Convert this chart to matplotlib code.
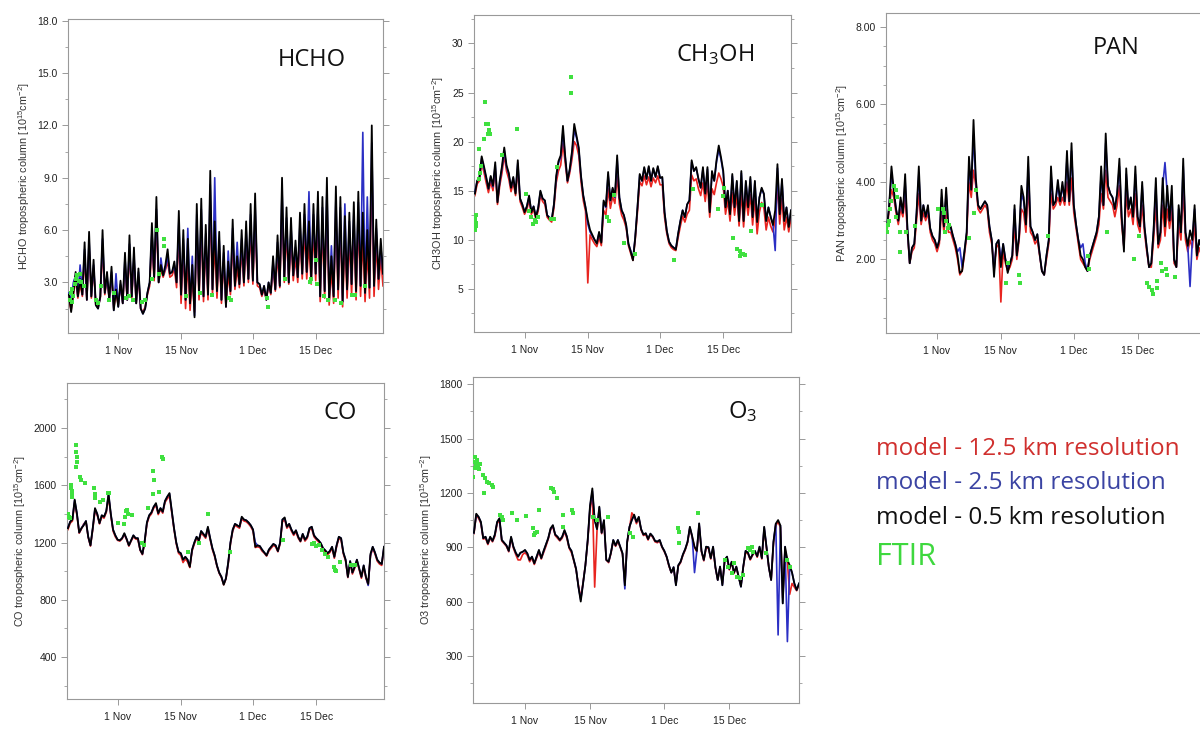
import numpy as np
import matplotlib
matplotlib.use("Agg")
import matplotlib.pyplot as plt

plt.rcParams['font.family'] = ['Liberation Sans', 'DejaVu Sans']
plt.rcParams['mathtext.default'] = 'regular'

# time axis: days since 1 Nov, model output every 12 h
t_half = np.arange(-11, 59.5, 0.5)
date_ticks = [0, 14, 30, 44]
date_labels = ["1 Nov", "15 Nov", "1 Dec", "15 Dec"]

# ---------------- HCHO ----------------
hcho_05 = [2.3, 1.3, 2.4, 3.6, 2.2, 3.2, 2.3, 5.3, 2.0, 5.9,
           2.2, 4.3, 1.7, 1.5, 2.2, 6.0, 2.4, 3.6, 2.0, 3.9,
           1.4, 2.6, 1.6, 3.1, 1.8, 4.7, 2.0, 5.7, 2.2, 5.0,
           1.8, 3.8, 1.5, 1.2, 1.5, 2.4, 3.0, 6.4, 3.3, 7.9,
           3.0, 4.0, 3.4, 4.0, 4.9, 3.5, 3.6, 4.2, 3.0, 7.1,
           2.3, 6.0, 2.0, 5.5, 1.8, 4.0, 1.0, 7.5, 2.4, 7.8,
           2.2, 6.3, 2.3, 9.4, 2.6, 6.5, 2.5, 5.9, 2.0, 5.1,
           1.6, 4.2, 2.5, 6.6, 2.8, 4.5, 2.9, 6.0, 3.0, 6.5,
           3.2, 7.5, 3.1, 8.1, 3.0, 2.9, 2.3, 2.8, 2.0, 3.0,
           2.4, 4.5, 2.6, 5.7, 2.8, 9.0, 3.2, 7.3, 3.0, 6.7,
           3.4, 5.4, 3.3, 7.0, 3.5, 7.5, 3.6, 6.5, 3.2, 7.5,
           3.5, 8.2, 2.2, 7.9, 2.5, 9.0, 2.0, 4.5, 2.2, 8.5,
           2.6, 7.9, 1.9, 6.8, 2.6, 7.0, 2.9, 7.6, 2.5, 8.2,
           2.8, 7.0, 2.4, 6.0, 2.7, 12.0, 2.8, 6.6, 3.2, 5.5,
           3.5]
hcho_125 = [2.0, 1.4, 2.3, 3.2, 2.1, 2.9, 2.2, 4.5, 2.0, 5.0,
            2.1, 3.8, 1.7, 1.6, 2.1, 5.0, 2.3, 3.2, 2.0, 3.4,
            1.5, 2.4, 1.7, 2.8, 1.8, 4.0, 2.0, 4.8, 2.1, 4.3,
            1.8, 3.3, 1.5, 1.3, 1.6, 2.3, 2.8, 5.2, 3.1, 6.5,
            3.0, 3.7, 3.3, 3.7, 4.2, 3.3, 3.4, 3.8, 2.7, 5.8,
            1.8, 4.8, 1.5, 4.2, 1.4, 3.2, 1.3, 6.0, 2.0, 6.2,
            1.9, 5.0, 2.0, 7.5, 2.3, 5.2, 2.1, 4.8, 1.8, 4.2,
            1.6, 3.5, 2.3, 5.3, 2.6, 3.8, 2.7, 4.9, 2.8, 5.3,
            3.0, 6.0, 2.9, 6.5, 2.8, 2.7, 2.2, 2.6, 2.0, 2.8,
            2.3, 3.8, 2.5, 4.6, 2.7, 7.2, 3.0, 5.9, 2.9, 5.4,
            3.1, 4.4, 3.0, 5.6, 3.2, 6.0, 3.2, 5.2, 2.9, 6.0,
            3.1, 6.6, 1.9, 6.3, 2.1, 7.2, 1.7, 3.7, 1.8, 6.8,
            2.1, 6.3, 1.6, 5.4, 2.1, 5.6, 2.3, 6.1, 2.0, 6.6,
            2.2, 5.6, 1.9, 4.8, 2.1, 9.6, 2.2, 5.3, 2.6, 4.4,
            2.8]
hcho_25 = [2.4, 2.0, 3.0, 3.4, 2.2, 4.0, 2.3, 4.9, 2.0, 5.4,
           2.2, 4.0, 1.7, 1.5, 2.2, 5.5, 2.4, 3.4, 2.0, 3.6,
           1.4, 3.5, 1.6, 2.9, 1.8, 4.4, 2.0, 5.2, 2.2, 4.6,
           1.8, 3.6, 1.5, 1.2, 1.5, 2.4, 3.0, 5.9, 3.3, 7.2,
           3.0, 4.4, 3.4, 3.8, 4.5, 3.5, 3.6, 4.0, 3.0, 6.5,
           2.3, 5.5, 2.0, 6.1, 1.8, 4.5, 1.1, 6.9, 2.4, 7.2,
           2.2, 5.8, 2.3, 8.6, 2.6, 9.0, 2.5, 5.4, 2.0, 4.7,
           1.6, 4.8, 2.5, 6.1, 2.8, 5.3, 2.9, 5.5, 3.0, 6.0,
           3.2, 6.9, 3.1, 7.4, 3.0, 2.9, 2.3, 2.8, 2.0, 3.0,
           2.4, 4.2, 2.6, 5.3, 2.8, 8.3, 3.2, 6.7, 3.0, 6.2,
           3.4, 5.0, 3.3, 6.4, 3.5, 6.9, 3.6, 8.2, 3.2, 6.9,
           3.5, 7.5, 2.2, 7.3, 2.5, 8.3, 2.0, 5.1, 2.2, 7.8,
           2.6, 7.3, 1.9, 7.5, 2.6, 6.5, 2.9, 7.0, 2.5, 7.6,
           2.8, 11.6, 2.4, 7.9, 2.7, 11.0, 2.8, 6.1, 3.2, 5.1,
           3.5]
hcho_ftir_t = [-10.8, -10.6, -10.4, -10.2, -10.0, -9.7, -9.4, -9.1, -8.8, -8.5,
               -8.2, -7.6, -5.0, -4.6, -3.9, -2.0, -1.0, 1.8, 2.5, 3.2,
               5.3, 6.0, 7.6, 8.7, 9.1, 10.3, 10.3, 15.0, 18.2, 20.8,
               24.6, 25.2, 33.2, 33.3, 37.2, 42.7, 43.0, 44.0, 44.3, 45.8,
               46.8, 48.2, 49.6, 52.2, 52.8, 55.0]
hcho_ftir = [2.0, 2.4, 1.9, 2.6, 2.2, 2.9, 3.2, 3.4, 3.1, 3.5,
             3.0, 2.8, 2.0, 1.8, 2.8, 2.0, 2.4, 2.1, 2.2, 2.0,
             1.9, 2.0, 3.2, 6.0, 3.5, 5.5, 5.1, 2.2, 2.4, 2.3,
             2.1, 2.0, 2.1, 1.6, 3.2, 3.0, 3.2, 4.3, 2.9, 2.2,
             2.0, 2.0, 1.8, 2.3, 2.3, 2.8]

# ---------------- CH3OH ----------------
ch3oh_05 = [14.7, 16.0, 16.4, 18.5, 17.5, 16.4, 15.2, 16.5, 15.5, 17.9,
            13.8, 16.0, 17.5, 19.4, 17.6, 16.8, 15.3, 16.4, 14.7, 18.1,
            14.2, 13.6, 12.8, 13.4, 14.5, 12.8, 13.4, 12.3, 13.2, 15.0,
            14.2, 14.0, 12.5, 12.2, 12.0, 13.6, 16.5, 18.0, 18.6, 21.6,
            18.5, 16.0, 17.2, 19.0, 21.8, 20.6, 19.4, 16.5, 14.5, 13.3,
            12.0, 11.0, 10.5, 10.0, 9.6, 10.8, 9.7, 14.0, 13.4, 16.9,
            14.0, 15.3, 14.4, 18.6, 14.3, 13.0, 12.5, 11.5, 9.6, 8.8,
            7.9, 10.2, 13.3, 16.7, 16.0, 17.4, 16.2, 17.5, 16.0, 17.3,
            16.4, 17.5, 16.3, 16.4, 12.8, 10.9, 9.8, 9.4, 9.2, 9.0,
            10.6, 11.9, 13.0, 12.3, 13.6, 14.0, 18.1, 17.0, 17.4, 16.2,
            15.3, 17.4, 14.7, 17.4, 12.8, 17.0, 16.0, 18.1, 19.6, 18.4,
            17.0, 13.3, 15.0, 12.6, 16.7, 13.3, 16.0, 11.9, 17.0, 11.9,
            16.0, 13.3, 16.4, 12.3, 16.0, 11.8, 14.3, 15.3, 14.7, 11.9,
            13.3, 12.3, 11.5, 13.0, 17.7, 12.6, 16.2, 11.9, 13.3, 11.3,
            13.0]
ch3oh_125 = [14.5, 15.7, 16.0, 17.8, 16.9, 15.8, 14.8, 15.9, 15.0, 17.0,
             13.6, 15.5, 16.8, 18.6, 17.0, 16.2, 14.9, 15.8, 14.5, 17.2,
             13.9, 13.3, 12.6, 13.1, 14.0, 12.6, 13.1, 12.1, 12.9, 14.5,
             13.9, 13.6, 12.3, 12.0, 11.8, 13.2, 15.8, 17.0, 17.6, 19.8,
             17.8, 15.8, 16.8, 18.2, 20.0, 19.6, 18.6, 15.9, 14.0, 12.9,
             5.6, 10.5, 10.0, 9.6, 9.3, 10.2, 9.4, 13.0, 12.5, 15.2,
             13.2, 14.4, 13.7, 16.5, 13.6, 12.5, 12.0, 11.2, 9.4, 8.6,
             7.9, 10.0, 12.8, 15.9, 15.5, 16.5, 15.6, 16.4, 15.4, 16.3,
             15.8, 16.5, 15.6, 15.6, 12.3, 10.6, 9.6, 9.2, 9.0, 8.9,
             10.2, 11.4, 12.4, 11.8, 12.6, 13.0, 16.6, 16.0, 16.2, 15.2,
             14.5, 15.8, 13.9, 15.8, 12.3, 15.2, 14.6, 15.8, 16.8, 16.2,
             15.4, 12.6, 14.0, 11.9, 14.8, 12.5, 14.6, 11.4, 14.8, 11.3,
             14.4, 12.5, 14.6, 11.5, 14.2, 10.6, 12.8, 13.8, 13.2, 11.0,
             12.3, 11.4, 10.8, 12.0, 15.6, 11.6, 14.2, 11.0, 12.3, 10.8,
             12.2]
ch3oh_25 = [14.9, 16.0, 16.3, 18.3, 17.3, 16.3, 15.2, 16.4, 15.4, 17.6,
            13.9, 15.9, 17.3, 19.1, 17.4, 16.7, 15.3, 16.3, 14.8, 17.8,
            14.2, 13.6, 12.9, 13.4, 14.4, 12.9, 13.4, 12.4, 13.2, 14.9,
            14.2, 14.0, 12.5, 12.3, 12.1, 13.6, 16.3, 17.8, 18.4, 21.0,
            18.4, 16.0, 17.1, 18.8, 21.2, 20.4, 19.2, 16.4, 14.5, 13.3,
            11.6, 10.8, 10.4, 10.0, 9.7, 10.7, 9.8, 13.8, 13.3, 16.6,
            14.0, 15.2, 14.3, 18.2, 14.3, 13.0, 12.5, 11.5, 9.6, 8.9,
            8.0, 10.3, 13.3, 16.6, 16.0, 17.3, 16.2, 17.4, 16.0, 17.2,
            16.4, 17.4, 16.3, 16.3, 12.8, 10.9, 9.8, 9.4, 9.2, 9.1,
            10.6, 11.9, 13.0, 12.3, 13.6, 14.0, 17.9, 17.0, 17.3, 16.2,
            15.3, 17.2, 14.7, 17.2, 12.9, 16.8, 16.0, 17.9, 19.2, 18.2,
            16.8, 13.4, 15.0, 12.7, 16.5, 13.4, 15.9, 12.0, 16.8, 12.0,
            15.9, 13.4, 16.2, 12.4, 15.9, 11.9, 14.3, 15.2, 14.6, 12.0,
            13.3, 12.4, 11.6, 8.9, 17.3, 12.7, 16.0, 12.0, 13.3, 11.4,
            13.0]
ch3oh_ftir_t = [-10.9, -10.9, -10.8, -10.8, -10.9, -10.7, -10.0, -9.9, -9.7, -10.0,
                -8.8, -8.9, -8.5, -8.1, -7.9, -8.2, -7.6, -4.9, -1.6, 0.3,
                1.0, 1.5, 1.8, 2.2, 2.6, 2.9, 5.8, 6.5, 7.1, 10.3,
                10.3, 18.3, 18.6, 19.8, 22.1, 24.5, 33.2, 37.4, 42.9, 44.0,
                44.1, 46.1, 47.0, 47.6, 47.9, 48.4, 48.8, 47.7, 50.1, 52.5]
ch3oh_ftir = [12.3, 12.0, 11.7, 11.4, 11.0, 12.5, 16.2, 16.8, 17.5, 19.2,
              24.0, 20.3, 21.8, 21.8, 21.2, 20.8, 20.8, 18.6, 21.3, 14.7,
              12.9, 12.3, 11.6, 12.0, 11.8, 12.3, 12.1, 12.1, 17.4, 26.6,
              25.0, 12.3, 11.9, 14.6, 9.7, 8.5, 7.9, 15.2, 13.1, 14.5,
              15.3, 10.2, 9.1, 8.9, 8.5, 8.5, 8.4, 8.3, 10.9, 13.5]

# ---------------- PAN ----------------
pan_05 = [2.8, 3.4, 4.4, 3.8, 3.3, 3.0, 3.6, 3.2, 4.2, 2.8,
          1.9, 2.3, 2.4, 3.2, 4.4, 3.0, 3.4, 3.1, 3.4, 2.8,
          2.6, 2.5, 2.3, 2.5, 3.8, 2.85, 3.85, 2.8, 2.85, 2.6,
          2.4, 2.1, 1.65, 1.7, 2.2, 2.7, 4.65, 3.8, 5.6, 4.1,
          3.4, 3.3, 3.4, 3.5, 3.4, 2.85, 2.5, 1.55, 2.4, 2.5,
          1.8, 2.4, 2.0, 1.65, 1.9, 2.1, 3.4, 2.1, 2.6, 3.9,
          3.6, 2.9, 4.65, 2.85, 2.7, 2.5, 2.65, 2.15, 1.7, 1.6,
          2.1, 2.5, 4.4, 3.4, 3.5, 4.05, 3.5, 4.0, 3.5, 4.8,
          3.5, 5.0, 3.4, 2.9, 2.5, 2.1, 2.0, 1.8, 1.7, 2.1,
          2.3, 2.5, 2.7, 3.1, 4.4, 3.4, 5.25, 3.9, 3.7, 3.6,
          3.3, 3.7, 4.6, 3.1, 2.2, 4.35, 3.3, 3.6, 3.1, 4.4,
          3.1, 2.85, 4.0, 2.85, 2.3, 1.8, 1.9, 2.75, 4.1, 2.4,
          2.7, 4.1, 2.85, 3.9, 3.0, 3.9, 2.0, 1.8, 3.4, 2.7,
          4.6, 2.7, 2.35, 2.75, 2.5, 3.4, 2.1, 2.5, 2.3, 2.6,
          2.4]
pan_125 = [2.7, 3.3, 3.8, 3.6, 3.2, 2.9, 3.3, 3.1, 3.6, 2.7,
           1.9, 2.2, 2.3, 3.0, 3.7, 2.9, 3.2, 3.0, 3.2, 2.7,
           2.5, 2.4, 2.2, 2.4, 3.3, 2.7, 3.3, 2.7, 2.7, 2.5,
           2.3, 2.0, 1.6, 1.7, 2.1, 2.6, 4.0, 3.6, 4.3, 3.9,
           3.3, 3.2, 3.3, 3.4, 3.3, 2.7, 2.4, 1.8, 2.3, 2.4,
           0.9, 2.2, 1.9, 1.7, 1.8, 2.0, 2.9, 2.0, 2.5, 3.3,
           3.2, 2.7, 3.9, 2.7, 2.6, 2.4, 2.5, 2.1, 1.7, 1.6,
           2.0, 2.4, 3.7, 3.3, 3.4, 3.6, 3.4, 3.6, 3.4, 4.0,
           3.4, 4.1, 3.2, 2.8, 2.4, 2.0, 1.9, 1.8, 1.7, 2.0,
           2.2, 2.4, 2.6, 2.9, 3.7, 3.3, 4.3, 3.6, 3.5, 3.4,
           3.1, 3.4, 3.9, 2.9, 2.3, 3.7, 3.1, 3.3, 2.9, 3.7,
           2.9, 2.7, 3.4, 2.7, 2.2, 1.8, 1.8, 2.5, 3.4, 2.3,
           2.5, 3.4, 2.6, 3.3, 2.8, 3.3, 1.9, 1.8, 2.9, 2.5,
           3.8, 2.5, 2.2, 2.5, 2.3, 2.9, 2.0, 2.3, 2.1, 2.3,
           2.2]
pan_25 = [2.8, 3.4, 4.2, 3.8, 3.3, 3.0, 3.5, 3.2, 4.0, 2.8,
          1.9, 2.3, 2.4, 3.2, 4.2, 3.0, 3.4, 3.1, 3.3, 2.8,
          2.6, 2.5, 2.3, 2.5, 3.6, 2.85, 3.7, 2.8, 2.8, 2.6,
          2.4, 2.2, 2.3, 1.8, 2.2, 2.7, 4.4, 3.8, 5.2, 4.0,
          3.4, 3.3, 3.4, 3.5, 3.4, 2.85, 2.5, 1.7, 2.4, 2.5,
          2.0, 2.4, 2.0, 1.8, 1.9, 2.1, 3.3, 2.1, 2.6, 3.7,
          3.5, 2.9, 4.4, 2.85, 2.7, 2.5, 2.65, 2.15, 1.7, 1.6,
          2.1, 2.5, 4.2, 3.4, 3.5, 3.9, 3.5, 3.9, 3.5, 4.6,
          3.5, 4.8, 3.4, 2.9, 2.5, 2.3, 2.4, 1.9, 1.7, 2.1,
          2.3, 2.5, 2.7, 3.1, 4.2, 3.4, 5.0, 3.9, 3.7, 3.6,
          3.3, 3.7, 4.4, 3.1, 2.3, 4.2, 3.3, 3.6, 3.1, 4.2,
          3.1, 2.85, 3.9, 2.85, 2.3, 1.8, 1.9, 2.75, 3.9, 2.4,
          2.7, 3.9, 4.5, 3.7, 3.0, 3.7, 2.0, 1.8, 3.3, 2.7,
          4.4, 2.7, 2.35, 1.3, 2.5, 3.3, 2.1, 2.5, 2.3, 2.6,
          2.4]
pan_ftir_t = [-11.1, -10.9, -10.7, -10.5, -10.3, -10.0, -9.4, -9.0, -8.7, -9.1,
              -8.2, -8.1, -6.8, -4.9, 0.1, 1.2, 1.6, 2.0, 2.4, 2.7,
              1.8, 6.9, 8.2, 8.5, 15.1, 15.6, 18.0, 18.2, 24.4, 33.1,
              33.3, 37.3, 43.1, 44.2, 46.0, 46.6, 47.1, 47.4, 48.2, 48.2,
              49.1, 49.3, 50.2, 50.4, 52.2]
pan_ftir = [2.8, 2.7, 2.9, 3.0, 3.3, 3.5, 3.9, 3.8, 3.6, 3.1,
            2.7, 2.2, 2.7, 2.85, 3.3, 3.3, 3.2, 3.0, 2.8, 2.9,
            2.7, 2.55, 3.2, 3.8, 1.4, 1.9, 1.6, 1.4, 2.6, 2.1,
            1.75, 2.7, 2.0, 2.6, 1.4, 1.3, 1.2, 1.1, 1.25, 1.45,
            1.9, 1.7, 1.75, 1.6, 1.55]

# ---------------- CO ----------------
co_05 = [1300, 1345, 1360, 1500, 1400, 1270, 1300, 1320, 1350, 1240,
         1180, 1300, 1440, 1400, 1335, 1390, 1380, 1420, 1540, 1400,
         1290, 1250, 1220, 1215, 1230, 1265, 1225, 1180, 1215, 1250,
         1230, 1230, 1150, 1120, 1210, 1340, 1390, 1410, 1450, 1475,
         1405, 1440, 1415, 1490, 1520, 1545, 1420, 1300, 1200, 1135,
         1125, 1080, 1100, 1080, 1030, 1150, 1200, 1240, 1215, 1280,
         1260, 1240, 1310, 1230, 1160, 1110, 1040, 990, 960, 905,
         950, 1060, 1200, 1290, 1330, 1320, 1310, 1380, 1360, 1355,
         1340, 1320, 1290, 1170, 1180, 1175, 1150, 1130, 1110, 1150,
         1170, 1190, 1180, 1140, 1200, 1360, 1375, 1310, 1330, 1290,
         1260, 1285, 1240, 1210, 1260, 1220, 1240, 1300, 1310, 1250,
         1230, 1215, 1195, 1160, 1145, 1125, 1140, 1170, 1100, 1180,
         1240, 1230, 1130, 1080, 960, 1070, 990, 1030, 1080, 1020,
         960, 1040, 960, 910, 1120, 1170, 1130, 1080, 1060, 1050,
         1170]
co_125 = [1290, 1335, 1350, 1480, 1390, 1265, 1295, 1330, 1345, 1235,
          1175, 1290, 1420, 1390, 1330, 1380, 1370, 1410, 1520, 1390,
          1280, 1240, 1215, 1210, 1225, 1255, 1220, 1175, 1210, 1240,
          1225, 1220, 1145, 1115, 1200, 1330, 1380, 1400, 1440, 1460,
          1395, 1430, 1405, 1480, 1505, 1525, 1410, 1290, 1190, 1125,
          1110, 1060, 1085, 1065, 1025, 1140, 1190, 1230, 1205, 1265,
          1250, 1230, 1295, 1220, 1150, 1100, 1035, 985, 955, 905,
          945, 1050, 1190, 1280, 1320, 1310, 1300, 1365, 1350, 1345,
          1330, 1310, 1280, 1165, 1170, 1165, 1140, 1125, 1105, 1140,
          1160, 1180, 1170, 1135, 1190, 1345, 1360, 1300, 1320, 1280,
          1250, 1275, 1230, 1205, 1250, 1210, 1230, 1290, 1295, 1240,
          1220, 1205, 1185, 1150, 1135, 1115, 1130, 1160, 1090, 1170,
          1230, 1215, 1120, 1070, 955, 1060, 980, 1020, 1070, 1010,
          950, 1030, 950, 905, 1105, 1160, 1120, 1070, 1050, 1040,
          1160]
co_25 = [1305, 1345, 1365, 1495, 1405, 1270, 1300, 1325, 1350, 1240,
         1180, 1300, 1435, 1400, 1335, 1390, 1380, 1420, 1535, 1400,
         1290, 1250, 1220, 1215, 1230, 1260, 1225, 1180, 1215, 1250,
         1230, 1230, 1150, 1120, 1210, 1340, 1390, 1410, 1450, 1470,
         1405, 1440, 1415, 1490, 1520, 1540, 1420, 1300, 1200, 1135,
         1125, 1080, 1100, 1080, 1035, 1150, 1200, 1240, 1215, 1280,
         1260, 1240, 1305, 1230, 1160, 1110, 1040, 990, 960, 910,
         950, 1060, 1200, 1290, 1330, 1320, 1310, 1375, 1360, 1355,
         1340, 1320, 1290, 1200, 1180, 1175, 1150, 1130, 1110, 1150,
         1170, 1190, 1180, 1140, 1200, 1360, 1370, 1310, 1330, 1290,
         1260, 1285, 1240, 1210, 1260, 1220, 1240, 1300, 1310, 1250,
         1230, 1215, 1195, 1160, 1145, 1125, 1140, 1170, 1100, 1180,
         1240, 1230, 1130, 1080, 960, 1070, 990, 1030, 1080, 1020,
         960, 1040, 960, 900, 1110, 1170, 1130, 1080, 1060, 1050,
         1170]
co_ftir_t = [-11.2, -11.0, -10.8, -10.6, -10.4, -10.3, -10.2, -10.1, -10.0, -9.1,
             -9.1, -9.0, -9.0, -9.1, -8.4, -8.1, -7.2, -5.2, -5.1, -5.0,
             -4.0, -3.3, -2.2, -1.8, 0.0, 1.4, 1.6, 1.8, 2.1, 2.4,
             3.2, 5.3, 5.8, 6.7, 7.8, 8.0, 7.9, 9.1, 9.9, 10.1,
             15.6, 18.1, 20.0, 24.8, 36.7, 43.0, 43.5, 44.0, 44.5, 45.3,
             46.0, 46.7, 47.9, 48.1, 48.3, 49.3, 51.8, 52.6]
co_ftir = [1390, 1400, 1380, 1370, 1600, 1580, 1560, 1540, 1520, 1880,
           1830, 1800, 1760, 1730, 1660, 1640, 1615, 1580, 1540, 1510,
           1480, 1500, 1545, 1545, 1335, 1330, 1380, 1420, 1430, 1400,
           1390, 1200, 1185, 1440, 1700, 1640, 1540, 1555, 1800, 1780,
           1135, 1195, 1400, 1135, 1218, 1190, 1195, 1175, 1180, 1150,
           1120, 1100, 1030, 1010, 1000, 1065, 1040, 1040]

# ---------------- O3 ----------------
o3_05 = [980, 1085, 1068, 1040, 950, 958, 921, 958, 935, 970,
         1040, 1060, 940, 925, 910, 880, 958, 903, 870, 848,
         870, 875, 885, 866, 830, 848, 811, 848, 885, 840,
         880, 915, 950, 1004, 1022, 970, 958, 940, 958, 995,
         960, 900, 880, 830, 780, 682, 600, 700, 800, 940,
         1130, 1225, 1050, 1000, 1124, 980, 1050, 830, 820, 870,
         940, 910, 940, 903, 866, 690, 930, 1013, 1050, 1080,
         1040, 1068, 1000, 970, 977, 945, 975, 960, 935, 931,
         940, 903, 880, 848, 800, 760, 790, 690, 800, 820,
         860, 890, 930, 1013, 960, 903, 880, 1032, 880, 830,
         903, 900, 840, 903, 790, 719, 793, 690, 830, 848,
         780, 820, 760, 793, 737, 682, 793, 880, 870, 835,
         860, 880, 850, 903, 840, 1013, 903, 790, 719, 930,
         1030, 1050, 1020, 590, 903, 830, 800, 760, 700, 664,
         700]
o3_125 = [975, 1075, 1060, 1030, 945, 950, 915, 950, 930, 960,
          1030, 1050, 935, 920, 905, 875, 950, 895, 860, 830,
          830, 860, 870, 855, 820, 840, 805, 840, 875, 835,
          870, 905, 945, 995, 1015, 965, 950, 935, 950, 985,
          950, 895, 870, 825, 775, 690, 620, 705, 800, 930,
          1110, 1190, 680, 990, 1100, 975, 1040, 830, 815, 865,
          935, 905, 930, 900, 860, 700, 925, 1005, 1090, 1070,
          1030, 1060, 995, 965, 970, 940, 970, 955, 930, 925,
          935, 900, 875, 845, 795, 760, 785, 700, 795, 815,
          855, 885, 925, 1005, 955, 900, 875, 1020, 875, 825,
          895, 895, 835, 895, 785, 720, 790, 700, 825, 840,
          775, 815, 755, 790, 735, 690, 790, 870, 865, 830,
          855, 875, 845, 895, 835, 1000, 895, 790, 720, 920,
          1020, 1040, 1010, 620, 890, 820, 640, 700, 680, 660,
          690]
o3_25 = [980, 1080, 1068, 1038, 950, 958, 921, 955, 935, 968,
         1038, 1058, 940, 925, 910, 880, 955, 903, 870, 848,
         868, 875, 883, 866, 830, 848, 811, 848, 883, 840,
         878, 915, 950, 1000, 1020, 970, 958, 940, 958, 990,
         960, 900, 880, 830, 780, 682, 610, 700, 800, 940,
         1125, 1210, 1050, 1000, 1120, 980, 1048, 830, 820, 870,
         940, 910, 940, 903, 866, 670, 930, 1013, 1050, 1075,
         1040, 1065, 1000, 970, 977, 945, 975, 960, 935, 931,
         940, 903, 880, 848, 800, 760, 790, 690, 800, 820,
         860, 890, 930, 1010, 960, 760, 880, 1030, 880, 830,
         903, 900, 840, 903, 790, 719, 793, 690, 830, 848,
         780, 820, 760, 793, 737, 682, 793, 880, 870, 835,
         860, 880, 850, 903, 840, 1010, 903, 790, 719, 930,
         1030, 416, 1020, 590, 903, 379, 800, 760, 700, 664,
         700]
o3_ftir_t = [-11.1, -11.0, -10.9, -10.8, -10.6, -10.4, -10.2, -10.0, -9.8, -9.0,
             -8.6, -8.1, -7.7, -7.2, -7.0, -8.8, -5.4, -5.0, -4.8, -2.9,
             -1.8, 0.2, 1.8, 2.2, 2.5, 1.9, 3.1, 5.5, 6.0, 6.2,
             6.8, 8.1, 8.1, 10.1, 10.3, 14.7, 15.4, 17.9, 22.6, 23.3,
             33.0, 33.2, 33.2, 37.2, 43.1, 43.8, 44.5, 44.9, 45.6, 46.3,
             47.0, 48.1, 48.5, 48.8, 49.2, 52.0, 56.4, 57.0]
o3_ftir = [1290, 1340, 1370, 1400, 1360, 1380, 1340, 1330, 1360, 1298,
           1280, 1262, 1252, 1243, 1234, 1197, 1078, 1068, 1050, 1087,
           1050, 1072, 1004, 977, 986, 967, 1105, 1225, 1219, 1206,
           1170, 1078, 1013, 1105, 1087, 1068, 1050, 1068, 977, 958,
           1004, 986, 921, 1087, 830, 793, 756, 811, 737, 728,
           747, 894, 885, 903, 875, 866, 830, 793]

RED = '#e8241f'
BLUE = '#2b2fc4'
GREEN = '#3fe03f'
W, H = 1200, 729


def make_axes(fig, left, right, top, bottom):
    return fig.add_axes([left / W, 1 - bottom / H, (right - left) / W, (bottom - top) / H])


def panel(ax, y05, y125, y25, ft_t, ft, ylim, major, minor, fmt, ylabel):
    ax.plot(t_half, y125, color=RED, lw=1.2, zorder=2)
    ax.plot(t_half, y25, color=BLUE, lw=1.2, zorder=3)
    ax.plot(t_half, y05, color='black', lw=1.3, zorder=4)
    ax.plot(ft_t, ft, 's', color=GREEN, ms=2.4, mew=0, zorder=5)
    ax.set_xlim(-11.2, 59.0)
    ax.set_ylim(*ylim)
    yt = np.arange(major[0], major[1] + major[2] / 2, major[2])
    ax.set_yticks(yt)
    ax.set_yticklabels([fmt.format(v) for v in yt])
    ax.set_yticks(np.arange(minor[0], minor[1], minor[2]), minor=True)
    ax.set_xticks(date_ticks)
    ax.set_xticklabels(date_labels)
    ax.tick_params(axis='y', which='both', direction='out', right=True,
                   color='#999999', labelsize=7.5, labelcolor='#222222')
    ax.tick_params(axis='y', which='major', length=4, width=0.7)
    ax.tick_params(axis='y', which='minor', length=2.5, width=0.6)
    ax.tick_params(axis='x', direction='out', length=4, width=0.7, color='#999999',
                   labelsize=7.5, labelcolor='#222222', pad=5)
    for s in ax.spines.values():
        s.set_color('#999999')
        s.set_linewidth(0.8)
    ax.set_ylabel(ylabel, fontsize=7.8, color='#333333', labelpad=4)


fig = plt.figure(figsize=(12, 7.29), dpi=100)
unit = " tropospheric column [10$^{15}$cm$^{-2}$]"

ax1 = make_axes(fig, 68, 383, 19, 333)
panel(ax1, hcho_05, hcho_125, hcho_25, hcho_ftir_t, hcho_ftir, (0.1, 18.1),
      (3, 18, 3), (1.5, 18.1, 1.5), "{:.1f}", "HCHO" + unit)

ax2 = make_axes(fig, 474, 791, 15, 332)
panel(ax2, ch3oh_05, ch3oh_125, ch3oh_25, ch3oh_ftir_t, ch3oh_ftir, (0.6, 32.9),
      (5, 30, 5), (2.5, 32.9, 2.5), "{:.0f}", "CH3OH" + unit)

ax3 = make_axes(fig, 886, 1206, 13, 333)
panel(ax3, pan_05, pan_125, pan_25, pan_ftir_t, pan_ftir, (0.1, 8.36),
      (2, 8, 2), (0.5, 8.36, 0.5), "{:.2f}", "PAN" + unit)

ax4 = make_axes(fig, 67, 384, 383, 699)
panel(ax4, co_05, co_125, co_25, co_ftir_t, co_ftir, (107, 2314),
      (400, 2000, 400), (200, 2314, 200), "{:.0f}", "CO" + unit)

ax5 = make_axes(fig, 473, 799, 377, 703)
panel(ax5, o3_05, o3_125, o3_25, o3_ftir_t, o3_ftir, (40, 1840),
      (300, 1800, 300), (150, 1840, 150), "{:.0f}", "O3" + unit)

# species names inside the panels
title_font = ['Open Sans', 'DejaVu Sans']
for txt, x, y in [("HCHO", 312, 60), ("CH$_3$OH", 715, 55), ("PAN", 1116, 48),
                  ("CO", 340, 413), ("O$_3$", 743, 412)]:
    fig.text(x / W, 1 - y / H, txt, fontsize=17, family=title_font,
             ha='center', va='center', color='#111111')

# legend written as coloured text
legend_items = [("model - 12.5 km resolution", '#d0302e', 449, 17.5),
                ("model - 2.5 km resolution", '#3b44a3', 483, 17.5),
                ("model - 0.5 km resolution", '#111111', 518, 17.5),
                ("FTIR", '#3ed83e', 557, 22)]
for txt, col, y, size in legend_items:
    fig.text(876 / W, 1 - y / H, txt, fontsize=size, family=title_font,
             ha='left', va='center', color=col)

fig.savefig("out.png", dpi=100)
